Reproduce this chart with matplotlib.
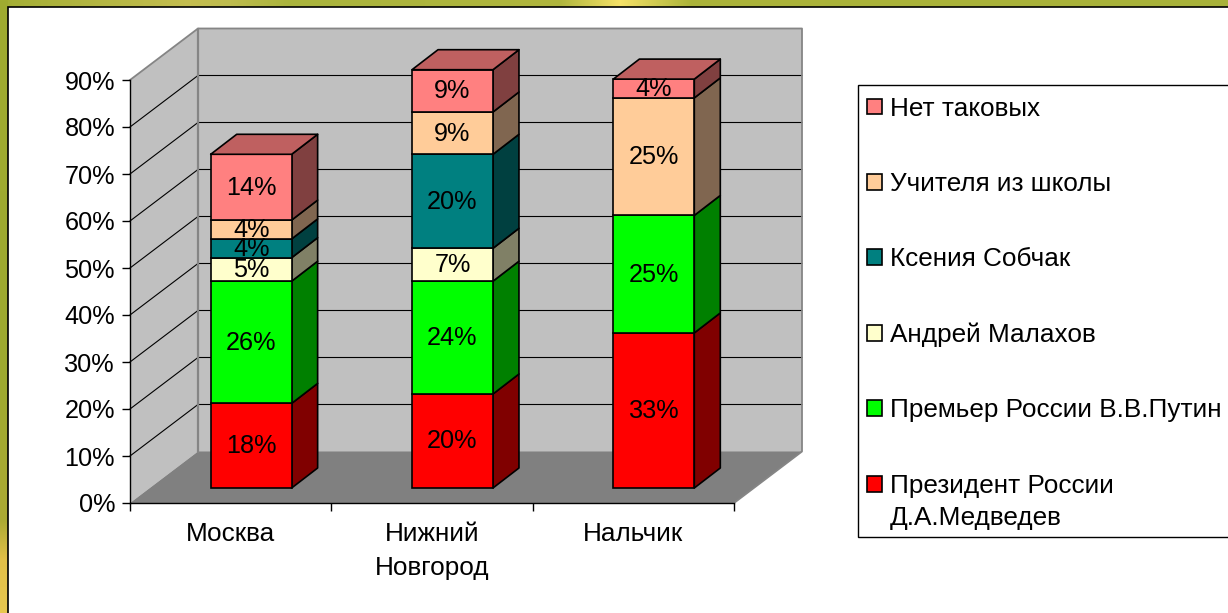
import numpy as np
import matplotlib
matplotlib.use("Agg")
import matplotlib.pyplot as plt
from matplotlib.patches import Patch, Polygon, Rectangle
from matplotlib.path import Path
from matplotlib.lines import Line2D
from matplotlib.legend_handler import HandlerPatch
from matplotlib.transforms import Affine2D, IdentityTransform

plt.rcParams['font.family'] = ['Liberation Sans', 'DejaVu Sans']

# ---- data ----
cities = ["Москва", "Нижний\nНовгород", "Нальчик"]
president = [18, 20, 33]
putin = [26, 24, 25]
malakhov = [5, 7, 0]
sobchak = [4, 20, 0]
teachers = [4, 9, 25]
nobody = [14, 9, 4]
series_names = ["Президент России\nД.А.Медведев", "Премьер России В.В.Путин", "Андрей Малахов",
                "Ксения Собчак", "Учителя из школы", "Нет таковых"]
series_values = [president, putin, malakhov, sobchak, teachers, nobody]
y_ticks = [0, 10, 20, 30, 40, 50, 60, 70, 80, 90]

# ---- style ----
front_colors = ["#FF0000", "#00FF00", "#FFFFCC", "#008080", "#FFCC99", "#FF8080"]
side_colors = ["#800000", "#008000", "#808066", "#004040", "#806650", "#804040"]
top_color = "#BF6060"
FS = 18.2
FS_CAT = 18.8
FS_LEG = 18.8
W, H = 1228, 613
WALL_DX, WALL_DY = 68, 51.5      # pixels of chart depth
BAR_DX, BAR_DY = 20.5, 15        # front of a bar behind the front plane
BAR_SIDE_DX, BAR_SIDE_DY = 26, 20
BAR_W = 0.402

fig = plt.figure(figsize=(W / 100, H / 100), dpi=100, facecolor="white")

# ---- slide background ----
bg = fig.add_axes([0, 0, 1, 1], zorder=0)
bg.set_xlim(0, W)
bg.set_ylim(H, 0)
bg.axis("off")
top_x = [0, 190, 230, 290, 560, 620, 690, 1228]
top_rgb = np.array([[163, 174, 52], [196, 190, 80], [190, 188, 78], [170, 180, 60],
                    [176, 182, 62], [246, 226, 104], [172, 180, 58], [168, 178, 58]]) / 255
xs = np.arange(W)
strip = np.stack([np.interp(xs, top_x, top_rgb[:, c]) for c in range(3)], axis=-1)[None, :, :]
bg.imshow(strip, extent=(0, W, 7, 0), aspect="auto", zorder=1)
left_y = [0, 380, 520, 560, 613]
left_rgb = np.array([[160, 172, 48], [158, 170, 48], [172, 170, 52], [226, 192, 72], [232, 200, 80]]) / 255
ys = np.arange(H)
lstrip = np.stack([np.interp(ys, left_y, left_rgb[:, c]) for c in range(3)], axis=-1)[:, None, :]
bg.imshow(lstrip, extent=(0, 8, H, 0), aspect="auto", zorder=1)
bg.set_xlim(0, W)
bg.set_ylim(H, 0)
bg.add_patch(Rectangle((7.5, 6.5), W + 50, H + 50, facecolor="white", edgecolor="black", linewidth=1.2, zorder=2))

# ---- main axes: the front plane of the 3-D box ----
ax = fig.add_axes([130 / W, 1 - 503 / H, 604 / W, 423 / H], zorder=1)
ax.patch.set_visible(False)
ax.set_xlim(0, len(cities))
ax.set_ylim(0, y_ticks[-1])
ax.set_autoscale_on(False)
for s in ("top", "right"):
    ax.spines[s].set_visible(False)
for s in ("left", "bottom"):
    ax.spines[s].set_linewidth(1.0)
ax.set_yticks(y_ticks)
ax.set_yticklabels([f"{v}%" for v in y_ticks], fontsize=FS)
ax.tick_params(axis="y", direction="out", length=5.8, width=1, pad=5)
centers = np.arange(len(cities)) + 0.5
ax.set_xticks(np.arange(len(cities) + 1))
ax.set_xticklabels([])
ax.tick_params(axis="x", which="major", direction="out", length=5.8, width=1)
ax.set_xticks(centers, minor=True)
ax.set_xticklabels(cities, minor=True, fontsize=FS_CAT, linespacing=1.55, va="top")
ax.tick_params(axis="x", which="minor", length=0, pad=13.5)


def pt(x, y, dx=0.0, dy=0.0):
    """data value -> display pixel, pushed back by a depth offset"""
    px = ax.transData.transform((x, y))
    return (px[0] + dx, px[1] + dy)


def poly(points, fc, ec="none", lw=0.0, z=1.0):
    ax.add_patch(Polygon(points, closed=True, facecolor=fc, edgecolor=ec, linewidth=lw,
                         transform=IdentityTransform(), clip_on=False, zorder=z, joinstyle="round"))


def line(points, color, lw, z=1.2):
    a = np.array(points)
    ax.add_line(Line2D(a[:, 0], a[:, 1], color=color, linewidth=lw,
                       transform=IdentityTransform(), clip_on=False, zorder=z))


xmax = len(cities)
ymax = y_ticks[-1]
wall, floor, edge = "#C0C0C0", "#808080", "#858585"
poly([pt(0, 0, WALL_DX, WALL_DY), pt(xmax, 0, WALL_DX, WALL_DY), pt(xmax, ymax, WALL_DX, WALL_DY), pt(0, ymax, WALL_DX, WALL_DY)], wall)
poly([pt(0, 0), pt(0, 0, WALL_DX, WALL_DY), pt(0, ymax, WALL_DX, WALL_DY), pt(0, ymax)], wall)
poly([pt(0, 0), pt(xmax, 0), pt(xmax, 0, WALL_DX, WALL_DY), pt(0, 0, WALL_DX, WALL_DY)], floor)
for v in y_ticks[1:-1]:
    line([pt(0, v), pt(0, v, WALL_DX, WALL_DY), pt(xmax, v, WALL_DX, WALL_DY)], "black", 0.8)
line([pt(0, ymax), pt(0, ymax, WALL_DX, WALL_DY), pt(xmax, ymax, WALL_DX, WALL_DY),
      pt(xmax, 0, WALL_DX, WALL_DY), pt(xmax, 0)], edge, 1.3, z=1.3)
line([pt(0, ymax, WALL_DX, WALL_DY), pt(0, 0, WALL_DX, WALL_DY)], edge, 1.6, z=1.3)

# ---- bars ----
front_tf = ax.transData + Affine2D().translate(BAR_DX, BAR_DY)
label_tf = ax.transData + Affine2D().translate(BAR_DX, BAR_DY + 2)
z = 3.0
for i, c in enumerate(centers):
    base = 0
    x0, x1 = c - BAR_W / 2, c + BAR_W / 2
    for s, vals in enumerate(series_values):
        v = vals[i]
        if v == 0:
            continue
        top = base + v
        ox, oy = BAR_DX, BAR_DY
        sx, sy = ox + BAR_SIDE_DX, oy + BAR_SIDE_DY
        poly([pt(x1, base, ox, oy), pt(x1, base, sx, sy), pt(x1, top, sx, sy), pt(x1, top, ox, oy)],
             side_colors[s], "black", 1.2, z)
        ax.bar(c, v, bottom=base, width=BAR_W, color=front_colors[s], edgecolor="black",
               linewidth=1.2, transform=front_tf, clip_on=False, zorder=z + 0.1)
        z += 0.2
        base = top
    poly([pt(x0, base, ox, oy), pt(x1, base, ox, oy), pt(x1, base, sx, sy), pt(x0, base, sx, sy)],
         top_color, "black", 1.2, z)
    z += 0.2

# labels on top of every bar
for i, c in enumerate(centers):
    base = 0
    for s, vals in enumerate(series_values):
        v = vals[i]
        if v == 0:
            continue
        ax.text(c, base + v / 2, f"{v}%", transform=label_tf, ha="center", va="center_baseline",
                fontsize=FS, color="black", zorder=50, clip_on=False)
        base += v

# ---- legend ----
handles = [Patch(facecolor=front_colors[s], edgecolor="black", linewidth=1.2, label=series_names[s])
           for s in reversed(range(len(series_names)))]

FIRST_LINE_UP = 13.0   # points: the key of a two-line entry sits beside its first line
HANDLE_LEFT = 2.1      # points
HANDLE_W = 10.8        # points
FRAME_TRIM_BOTTOM = 5  # pixels


def make_handle(legend, orig_handle, xdescent, ydescent, width, height, fontsize):
    shift = FIRST_LINE_UP if "\n" in orig_handle.get_label() else 0.0
    return Rectangle((-xdescent - HANDLE_LEFT, -ydescent + shift), HANDLE_W, height)


def trimmed_frame(x0, y0, width, height, mutation_size):
    y = y0 + FRAME_TRIM_BOTTOM
    return Path([(x0, y), (x0 + width, y), (x0 + width, y0 + height), (x0, y0 + height), (x0, y)], closed=True)


leg = ax.legend(handles=handles, handler_map={Patch: HandlerPatch(patch_func=make_handle)},
                loc="upper left", bbox_to_anchor=(858 / W, 1 - 85 / H), bbox_transform=fig.transFigure,
                borderaxespad=0, borderpad=0.45, fontsize=FS_LEG, handlelength=0.5, handleheight=0.55,
                handletextpad=0.26, labelspacing=1.965, fancybox=False, framealpha=1, facecolor="white",
                edgecolor="black")
leg.get_frame().set_linewidth(1.0)
leg.get_frame().set_boxstyle(trimmed_frame)
leg.set_zorder(60)
leg.get_texts()[-1].set_linespacing(1.42)

fig.savefig("out.png", dpi=100)
